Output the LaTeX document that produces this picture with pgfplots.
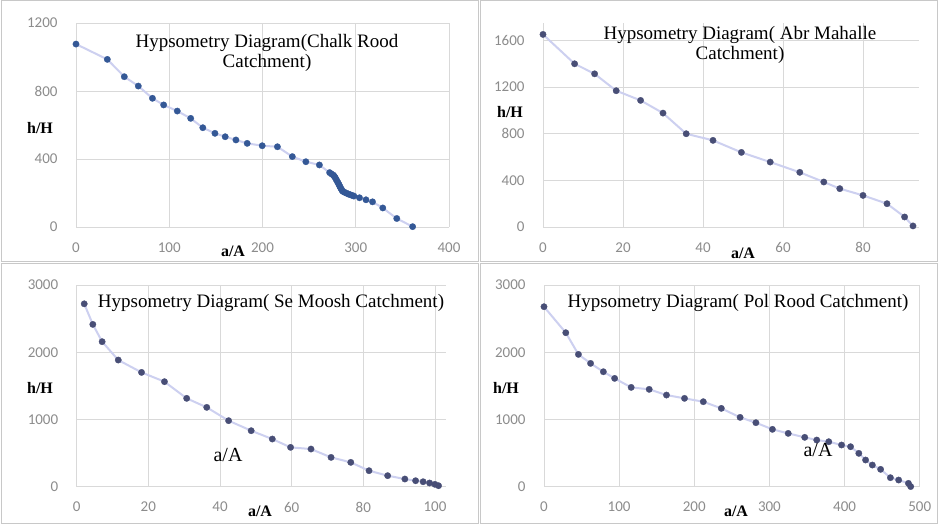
\documentclass[border=0pt]{standalone}
\usepackage{pgfplots}
\pgfplotsset{compat=1.18}
\usepackage{fontspec}
\setmainfont{Liberation Serif}
\newfontfamily\tickfont{Carlito}
\definecolor{mk1}{RGB}{52,88,150}
\definecolor{mk2}{RGB}{72,78,118}
\definecolor{ln}{RGB}{205,208,240}
\definecolor{grd}{RGB}{217,217,217}
\definecolor{tk}{RGB}{140,140,140}
\definecolor{frame}{RGB}{200,200,200}
\pgfplotsset{
  panel/.style={
    scale only axis,
    anchor=south west,
    axis line style={draw=none},
    major tick length=0pt,
    grid=major,
    major grid style={grd, line width=0.8pt},
    tick label style={font=\fontsize{15}{16}\selectfont\tickfont, text=tk},
    xticklabel style={yshift=-12pt},
    yticklabel style={xshift=-15pt},
    clip=false,
    scaled ticks=false,
    /pgf/number format/assume math mode=true,
    /pgf/number format/1000 sep={},
  },
  hyp/.style={color=ln, line width=2pt, mark=*, mark size=3.2pt,
    mark options={solid, draw=#1, fill=#1, line width=0.3pt}},
}
\begin{document}
\begin{tikzpicture}
\fill[white] (0pt,0pt) rectangle (938pt,525pt);
\draw[frame, line width=1pt] (1pt,263pt) rectangle (478pt,524pt);
\draw[frame, line width=1pt] (480pt,263pt) rectangle (937pt,524pt);
\draw[frame, line width=1pt] (1pt,1pt) rectangle (478pt,261pt);
\draw[frame, line width=1pt] (480pt,1pt) rectangle (937pt,261pt);

% Panel 1: Chalk Rood
\begin{axis}[panel, at={(76pt,298pt)}, width=373pt, height=204pt,
  xmin=0, xmax=400, ymin=0, ymax=1200,
  xtick={0,100,200,300,400}, ytick={0,400,800,1200}]
\addplot[hyp=mk1] coordinates {
(0,1076) (33.6,986) (51.8,884) (66.8,829) (82,757) (94,718) (108.6,682)
(123,639) (136,584) (149,551) (160,531) (171.5,512) (183.6,492) (199.7,478)
(216,472) (232,414) (246.5,384) (261,365) (272,320) (274,312) (276,305)
(277,298) (278,290) (279,280) (280,270) (281,260) (282,250) (283,238)
(284,228) (285,218) (286,210) (288,204) (290,199) (292,194) (294,190)
(296,186) (298,182) (304,172) (311,160) (318,148) (329,112) (344,50) (361,2)};
\end{axis}

% Panel 2: Abr Mahalle
\begin{axis}[panel, at={(543pt,298pt)}, width=376pt, height=204pt,
  xmin=0, xmax=94, ymin=0, ymax=1750,
  xtick={0,20,40,60,80}, ytick={0,400,800,1200,1600}]
\addplot[hyp=mk2] coordinates {
(0,1652) (7.9,1400) (12.9,1314) (18.3,1169) (24.4,1086) (30,977)
(35.8,800) (42.5,743) (49.6,640) (56.8,557) (64.2,469) (70.2,386)
(74.2,329) (80,271) (86,200) (90.4,86) (92.5,9)};
\end{axis}

% Panel 3: Se Moosh
\begin{axis}[panel, at={(76.7pt,38.3pt)}, width=369pt, height=201.7pt,
  xmin=0, xmax=103, ymin=0, ymax=3000,
  xtick={0,20,40,60,80,100}, ytick={0,1000,2000,3000}]
\addplot[hyp=mk2] coordinates {
(2.1,2720) (4.5,2414) (7.1,2157) (11.6,1884) (18.1,1700) (24.5,1562)
(30.7,1314) (36.3,1180) (42.4,982) (48.7,833) (54.6,709) (59.7,585)
(65.4,560) (71,436) (76.5,362) (81.6,238) (86.8,164) (91.6,114)
(94.6,89) (96.7,74) (98.5,55) (100,35) (101,15)};
\end{axis}

% Panel 4: Pol Rood
\begin{axis}[panel, at={(544pt,38.3pt)}, width=375.7pt, height=201.7pt,
  xmin=0, xmax=500, ymin=0, ymax=3000,
  xtick={0,100,200,300,400,500}, ytick={0,1000,2000,3000}]
\addplot[hyp=mk2] coordinates {
(0,2677) (29,2290) (45.8,1968) (62,1834) (79,1710) (94,1611) (116,1477)
(140,1448) (163,1363) (187,1314) (212,1264) (236,1165) (261,1031)
(282,952) (304,853) (325,793) (347,734) (363,694) (379,669) (396,620)
(408,595) (419,496) (428,397) (437,322) (448,258) (461,134) (472,99)
(485,50) (488,2)};
\end{axis}

% Titles
\node[font=\fontsize{19}{20}\selectfont, align=center] at (267pt,472pt) {Hypsometry Diagram(Chalk Rood\\Catchment)};
\node[font=\fontsize{19}{20}\selectfont, align=center] at (740pt,480pt) {Hypsometry Diagram( Abr Mahalle\\Catchment)};
\node[font=\fontsize{19}{20}\selectfont] at (271pt,222pt) {Hypsometry Diagram( Se Moosh Catchment)};
\node[font=\fontsize{19}{20}\selectfont] at (738pt,222pt) {Hypsometry Diagram( Pol Rood Catchment)};

% Axis labels
\node[font=\fontsize{16}{18}\selectfont\bfseries] at (40pt,397pt) {h/H};
\node[font=\fontsize{16}{18}\selectfont\bfseries] at (510pt,413pt) {h/H};
\node[font=\fontsize{16}{18}\selectfont\bfseries] at (40pt,137pt) {h/H};
\node[font=\fontsize{16}{18}\selectfont\bfseries] at (506pt,137pt) {h/H};
\node[font=\fontsize{16}{18}\selectfont\bfseries] at (233pt,274pt) {a/A};
\node[font=\fontsize{16}{18}\selectfont\bfseries] at (743pt,272pt) {a/A};
\node[font=\fontsize{16}{18}\selectfont\bfseries] at (260pt,14pt) {a/A};
\node[font=\fontsize{16}{18}\selectfont\bfseries] at (736pt,14pt) {a/A};
\node[font=\fontsize{20}{22}\selectfont] at (228pt,70pt) {a/A};
\node[font=\fontsize{20}{22}\selectfont] at (818pt,75pt) {a/A};
\end{tikzpicture}
\end{document}
